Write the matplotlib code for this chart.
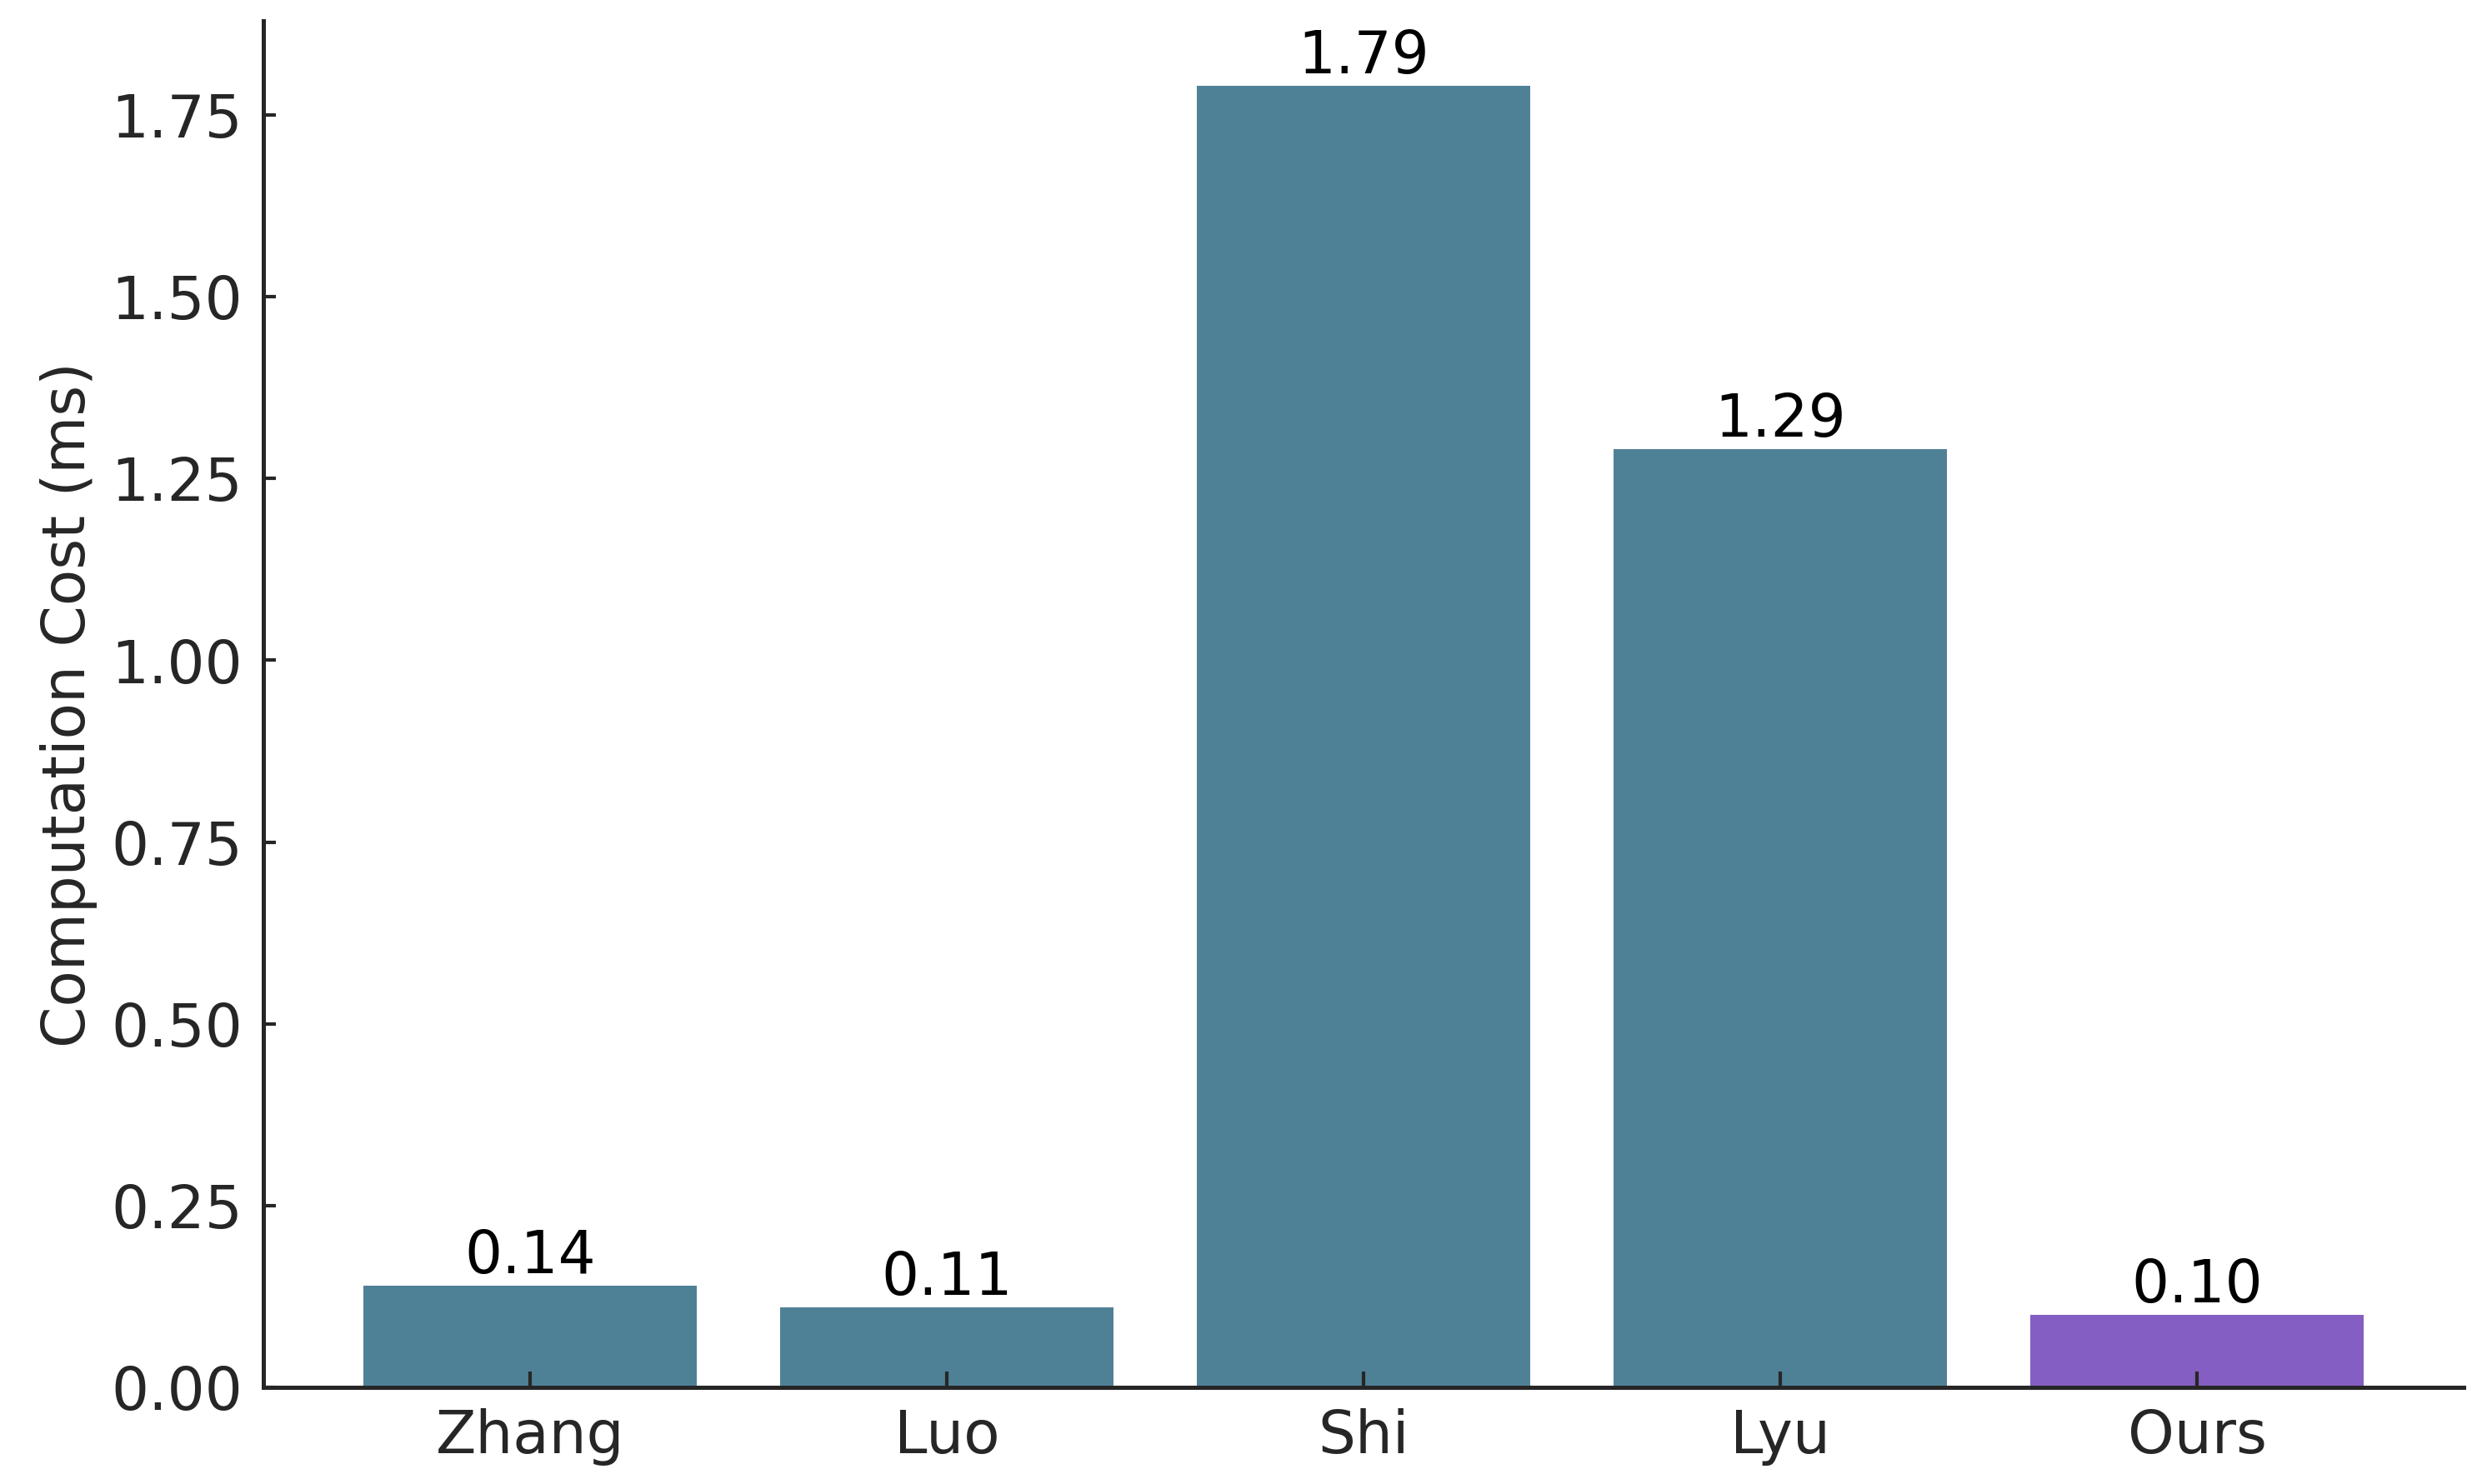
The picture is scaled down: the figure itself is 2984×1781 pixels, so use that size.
import matplotlib
matplotlib.use("Agg")
import matplotlib.pyplot as plt

# DATA
methods = ["Zhang", "Luo", "Shi", "Lyu", "Ours"]
costs = [0.14, 0.11, 1.79, 1.29, 0.10]
bar_colors = ["#4F8196", "#4F8196", "#4F8196", "#4F8196", "#845EC2"]

plt.rcParams["font.family"] = "DejaVu Sans"
plt.rcParams["font.size"] = 17

fig, ax = plt.subplots(figsize=(9.947, 5.937), dpi=300)
fig.subplots_adjust(left=0.106, right=0.9906, bottom=0.065, top=0.986)

bars = ax.bar(methods, costs, color=bar_colors, width=0.8)

# value labels above each bar
for rect, v in zip(bars, costs):
    ax.text(rect.get_x() + rect.get_width() / 2, rect.get_height(), f"{v:.2f}",
            ha="center", va="bottom", fontsize=17, color="black")

ax.set_ylabel("Computation Cost (ms)", fontsize=17, color="#262626")

ax.spines["top"].set_visible(False)
ax.spines["right"].set_visible(False)
for s in ["left", "bottom"]:
    ax.spines[s].set_linewidth(1.2)
    ax.spines[s].set_color("#262626")

ax.tick_params(axis="both", direction="in", colors="#262626", labelsize=17, width=1.0)
ax.tick_params(axis="y", length=3.5, pad=6)
ax.tick_params(axis="x", length=4.5, pad=6)
ax.yaxis.set_major_formatter(matplotlib.ticker.FormatStrFormatter("%.2f"))

fig.savefig("out.png", dpi=300)
